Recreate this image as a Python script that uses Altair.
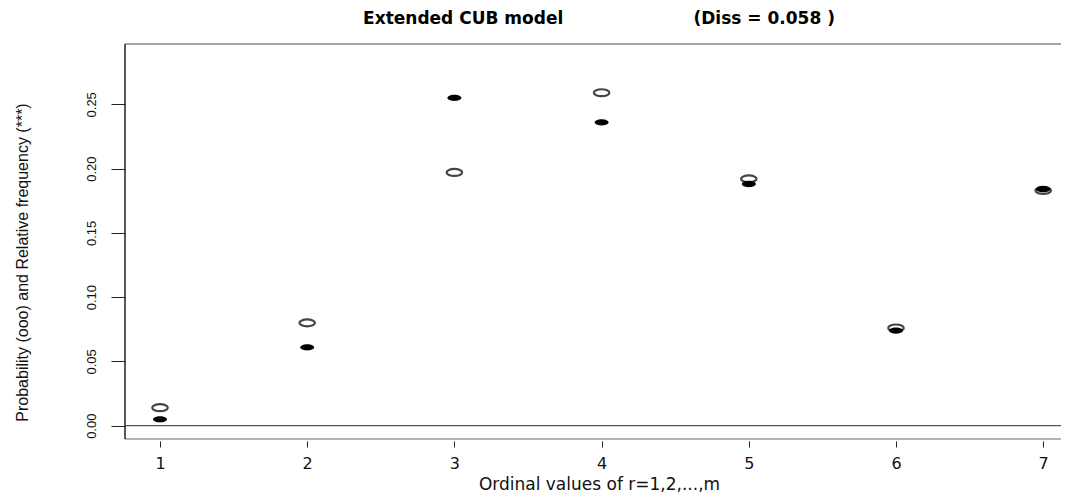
import altair as alt
import pandas as pd

# ordinal categories and the two series
r_values = [1, 2, 3, 4, 5, 6, 7]
probability = [0.014, 0.080, 0.197, 0.259, 0.192, 0.076, 0.183]      # open circles (ooo)
rel_frequency = [0.005, 0.061, 0.255, 0.236, 0.188, 0.074, 0.184]    # filled circles (***)
y_ticks = [0.00, 0.05, 0.10, 0.15, 0.20, 0.25]
x_ticks = [1, 2, 3, 4, 5, 6, 7]
title_text = ["Extended CUB model" + "\u00a0" * 22 + "(Diss = 0.058 )"]

df = pd.DataFrame({"r": r_values, "prob": probability, "freq": rel_frequency})
title_df = pd.DataFrame({"t": title_text})

W, H = 936, 395
ELLIPSE = ("M1,0C1,0.248,0.552,0.45,0,0.45C-0.552,0.45,-1,0.248,-1,0"
           "C-1,-0.248,-0.552,-0.45,0,-0.45C0.552,-0.45,1,-0.248,1,0Z")

xscale = alt.Scale(domain=[0.7622, 7.121], nice=False, zero=False)
yscale = alt.Scale(domain=[-0.01034, 0.2969], nice=False, zero=False)

xaxis = alt.Axis(values=x_ticks, format="d", grid=False, domain=False,
                 tickSize=6, offset=2, tickColor="#222", tickWidth=1,
                 labelFont="DejaVu Sans", labelFontSize=16, labelColor="#111",
                 labelPadding=8,
                 title="Ordinal values of r=1,2,...,m", titleFont="DejaVu Sans",
                 titleFontSize=17, titleFontWeight="normal", titleColor="#111",
                 titleAlign="center", titleBaseline="alphabetic",
                 titleX=474, titleY=48)
yaxis = alt.Axis(values=y_ticks, format=".2f", grid=False, domain=False,
                 tickSize=14, tickColor="#222", tickWidth=1,
                 labelAngle=270, labelAlign="center", labelBaseline="middle",
                 labelPadding=20, labelFont="Liberation Sans",
                 labelFontSize=13, labelColor="#111",
                 title="Probability (ooo) and Relative frequency (***)",
                 titleFont="Liberation Sans", titleFontSize=16,
                 titleFontWeight="normal", titleColor="#111",
                 titleAngle=270, titleAlign="center", titleBaseline="middle",
                 titleX=-103, titleY=218)

base = alt.Chart(df)

open_pts = base.mark_point(shape=ELLIPSE, size=240, filled=False,
                           stroke="#444", strokeWidth=2.2, opacity=1).encode(
    x=alt.X("r:Q", scale=xscale, axis=xaxis),
    y=alt.Y("prob:Q", scale=yscale, axis=yaxis),
)
filled_pts = base.mark_point(shape=ELLIPSE, size=196, filled=True,
                             color="black", opacity=1).encode(
    x=alt.X("r:Q", scale=xscale),
    y=alt.Y("freq:Q", scale=yscale),
)
zero_line = base.mark_rule(color="#555", strokeWidth=1.2).encode(
    y=alt.Y("zero:Q", scale=yscale)
).transform_calculate(zero="0").transform_filter("datum.r == 1")

top_border = base.mark_rule(color="#888", strokeWidth=1.5).encode(
    y=alt.value(0)).transform_filter("datum.r == 1")
bottom_border = base.mark_rule(color="#999", strokeWidth=1.5).encode(
    y=alt.value(H)).transform_filter("datum.r == 1")
left_border = base.mark_rule(color="#222", strokeWidth=1.5).encode(
    x=alt.value(0)).transform_filter("datum.r == 1")

main_title = alt.Chart(title_df).mark_text(
    font="DejaVu Sans", fontSize=17, fontWeight="bold", color="#000",
    align="center", baseline="alphabetic",
).encode(text="t:N", x=alt.value(474), y=alt.value(-20))

chart = alt.layer(
    zero_line, top_border, bottom_border, left_border, open_pts, filled_pts,
    main_title,
).properties(
    width=W, height=H,
    autosize=alt.AutoSizeParams(type="none"),
    padding={"left": 117, "top": 36, "right": 0, "bottom": 53},
    background="white",
).configure_view(stroke=None)

chart.save("out.html", embed_options={"renderer": "svg", "actions": False})
